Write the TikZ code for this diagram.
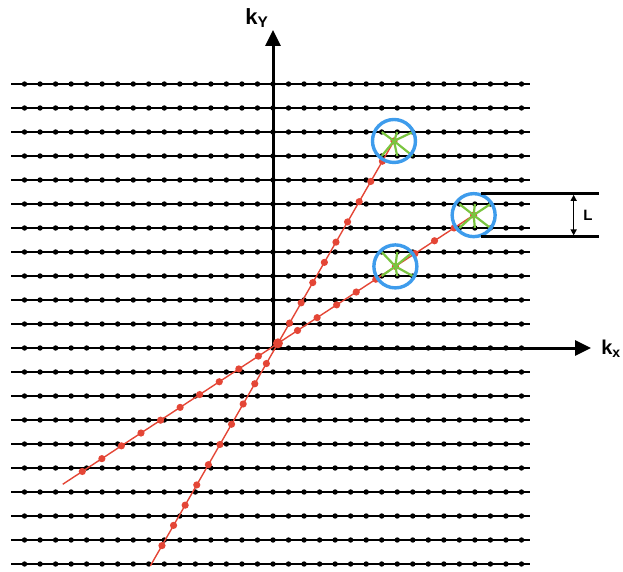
\documentclass[tikz,border=0pt]{standalone}
\usepackage{fontspec}
\setmainfont{Liberation Sans}
\usepackage{tikz}
\usetikzlibrary{arrows.meta,calc,positioning}
\definecolor{trajred}{RGB}{228,70,54}
\definecolor{kernelgreen}{RGB}{122,197,63}
\definecolor{ringblue}{RGB}{62,156,236}
\tikzset{
  gridline/.style={line width=1.3pt,black},
  axis/.style={line width=3pt,-{Triangle[length=16pt,width=15pt]}},
  spoke/.style={trajred,line width=1.4pt},
  kernelarm/.style={kernelgreen,line width=2.2pt},
  ring/.style={circle,draw=ringblue,line width=3.4pt,minimum size=43pt,inner sep=0pt,outer sep=0pt},
  bracket/.style={line width=2.4pt},
  dimline/.style={line width=1.3pt,shorten >=1.2pt,shorten <=1.2pt,
    {Triangle[length=6pt,width=6pt]}-{Triangle[length=6pt,width=6pt]}}
}
% arms from a sample (#1) to the six grid points of columns #2-1..#2+1, rows #3 and #3+1
\newcommand{\kernel}[3]{\foreach \dc in {-1,0,1}{\foreach \dr in {0,1}{
  \draw[kernelarm] (#1) -- ({#2+\dc},{#3+\dr});}}}

\begin{document}
\begin{tikzpicture}[x=15.53pt,y=24pt,font=\bfseries]
\useasboundingbox (-273pt,-223pt) rectangle (350pt,348pt);
% cartesian grid
\foreach \j in {-9,...,11}{
  \draw[gridline] (-16.87,\j) -- (16.55,\j);
  \foreach \i in {-16,...,16} \fill (\i,\j) circle (2.7pt);
}
% axes
\coordinate (O) at (0,0);
\coordinate (kyend) at (0pt,318pt);
\coordinate (kxend) at (318pt,0pt);
\draw[axis] (O) -- (kyend);
\draw[axis] (O) -- (kxend);
\node (ky) at (-16pt,330pt) {\fontsize{22}{22}\selectfont k\textsubscript{Y}};
\node (kx) at (338pt,-1pt) {\fontsize{20}{20}\selectfont k\textsubscript{x}};
% radial spokes
\coordinate (ctr) at (0.32,0.196);
\draw[spoke] ($(ctr)+(-11*0.747,-11*0.843)$) -- ($(ctr)+(10*0.747,10*0.843)$) coordinate (sA);
\draw[spoke] ($(ctr)+(-11*1.26,-11*0.534)$) -- ($(ctr)+(10*1.26,10*0.534)$) coordinate (sC);
\coordinate (sB) at ($(ctr)+(6*1.26,6*0.534)$);
\foreach \k in {-10,...,10}{
  \fill[trajred] ($(ctr)+(\k*0.747,\k*0.843)$) circle (3.6pt);
  \fill[trajred] ($(ctr)+(\k*1.26,\k*0.534)$) circle (3.6pt);
}
\fill[trajred] (ctr) circle (5pt);
% gridding kernels
\kernel{sA}{8}{8}
\kernel{sB}{8}{3}
\kernel{sC}{13}{5}
\node[ring] (ringA) at (sA) {};
\node[ring] (ringB) at (sB) {};
\node[ring] (ringC) at (sC) {};
% kernel width
\draw[bracket] ([xshift=7pt]ringC.north) -- ++(118pt,0) coordinate (ltop);
\draw[bracket] ([xshift=7pt]ringC.south) -- ++(118pt,0) coordinate (lbot);
\draw[dimline] ([xshift=-25pt]ltop) -- ([xshift=-25pt]lbot)
  node[midway,right=9pt,inner sep=0pt,font=\fontsize{15}{15}\selectfont\bfseries] (lbl) {L};
\end{tikzpicture}
\end{document}
